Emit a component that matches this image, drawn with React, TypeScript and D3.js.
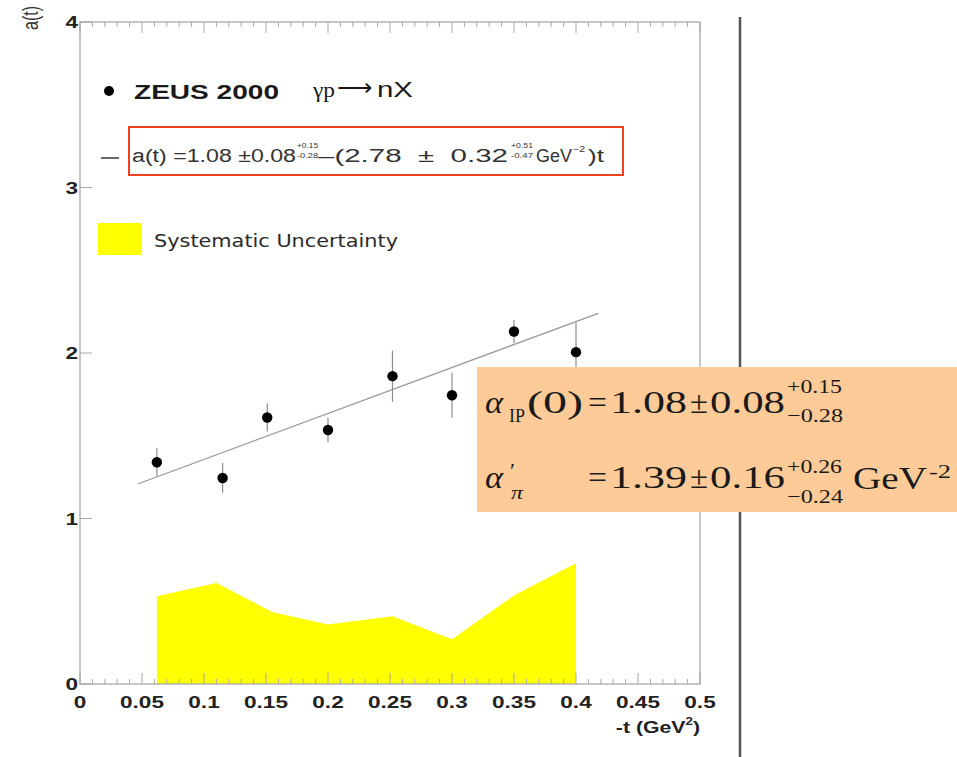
import React from 'react';
import * as d3 from 'd3';

// ZEUS 2000, gamma p -> n X : effective trajectory a(t) vs -t
const tPoints = [0.062, 0.115, 0.151, 0.2, 0.252, 0.3, 0.35, 0.4];
const aValues = [1.34, 1.245, 1.61, 1.535, 1.86, 1.745, 2.13, 2.005];
const aErrors = [0.085, 0.09, 0.085, 0.075, 0.155, 0.135, 0.07, 0.18];

// systematic uncertainty band (drawn from zero)
const sysT = [0.062, 0.11, 0.155, 0.2, 0.252, 0.3, 0.351, 0.4];
const sysHeight = [0.53, 0.61, 0.435, 0.36, 0.41, 0.27, 0.54, 0.73];

// fitted line end points
const fitT = [0.047, 0.418];
const fitA = [1.21, 2.24];

const xTicks = [0, 0.05, 0.1, 0.15, 0.2, 0.25, 0.3, 0.35, 0.4, 0.45, 0.5];
const yTicks = [0, 1, 2, 3, 4];

const W = 957;
const H = 757;
const SX = 1.33; // the original picture is stretched horizontally
const SANS = '"Liberation Sans", Arial, sans-serif';
const SERIF = '"Liberation Serif", "Times New Roman", serif';
const NB = '\u00a0';

function Stretch({ x, y, anchor = 'start', size, weight = 'normal', family = SANS, fill = '#1a1a1a', children }: any) {
  return (
    <text
      transform={`translate(${x},${y}) scale(${SX},1)`}
      textAnchor={anchor}
      fontSize={size}
      fontWeight={weight}
      fontFamily={family}
      fill={fill}
    >
      {children}
    </text>
  );
}

function Fit({ x, y, w, size, weight = 'normal', family = SANS, italic = false, fill = '#1a1a1a', children }: any) {
  return (
    <text
      x={x}
      y={y}
      textLength={w}
      lengthAdjust="spacingAndGlyphs"
      fontSize={size}
      fontWeight={weight}
      fontStyle={italic ? 'italic' : 'normal'}
      fontFamily={family}
      fill={fill}
    >
      {children}
    </text>
  );
}

export default function App() {
  const x = d3.scaleLinear().domain([0, 0.5]).range([80, 700]);
  const y = d3.scaleLinear().domain([0, 4]).range([684, 22]);

  const minorX = d3.range(0, 51).map(i => i / 100);

  const band = d3.area<number>()
    .x((d, i) => x(sysT[i]))
    .y0(y(0))
    .y1(d => y(d));

  const fitLine = d3.line<number>()
    .x((d, i) => x(fitT[i]))
    .y(d => y(d));

  const fmt = d3.format('~g');
  const frame = '#a8a8a8';

  return (
    <svg width={W} height={H} style={{ position: 'absolute', left: 0, top: 0, background: '#fff' }}>
      {/* systematic band */}
      <path d={band(sysHeight) || ''} fill="#ffff00" />

      {/* frame */}
      <rect x={x(0)} y={y(4)} width={x(0.5) - x(0)} height={y(0) - y(4)} fill="none" stroke={frame} strokeWidth={1.3} />

      {/* x ticks bottom and top */}
      {minorX.map((t, i) => {
        const major = i % 5 === 0;
        const len = major ? 11 : 5;
        return (
          <g key={`mx${i}`} stroke={frame} strokeWidth={1}>
            <line x1={x(t)} x2={x(t)} y1={y(0)} y2={y(0) - len} />
            <line x1={x(t)} x2={x(t)} y1={y(4)} y2={y(4) + len} />
          </g>
        );
      })}
      {/* y ticks */}
      {yTicks.map(v => (
        <line key={`yt${v}`} x1={x(0)} x2={x(0) + 12} y1={y(v)} y2={y(v)} stroke={frame} strokeWidth={1} />
      ))}

      {/* tick labels */}
      {xTicks.map(t => (
        <Stretch key={`xl${t}`} x={x(t)} y={708} anchor="middle" size={17} weight="bold" fill="#222">
          {fmt(t)}
        </Stretch>
      ))}
      {yTicks.map(v => (
        <Stretch key={`yl${v}`} x={78} y={y(v) + 6} anchor="end" size={17} weight="bold" fill="#222">
          {v}
        </Stretch>
      ))}

      {/* axis titles */}
      <Stretch x={700} y={733} anchor="end" size={16} weight="bold" fill="#222">
        -t (GeV<tspan dy={-8} fontSize={10}>2</tspan><tspan dy={8}>)</tspan>
      </Stretch>
      <text
        transform={`translate(38,6) rotate(-90) scale(1,${SX})`}
        textAnchor="end"
        fontSize={16}
        fontFamily={SANS}
        fill="#333"
      >
        a(t)
      </text>

      {/* fit line */}
      <path d={fitLine(fitA) || ''} fill="none" stroke="#9a9a9a" strokeWidth={1.3} />

      {/* data points */}
      {tPoints.map((t, i) => (
        <g key={`p${i}`}>
          <line
            x1={x(t)} x2={x(t)}
            y1={y(aValues[i] - aErrors[i])} y2={y(aValues[i] + aErrors[i])}
            stroke="#8c8c8c" strokeWidth={1.2}
          />
          <circle cx={x(t)} cy={y(aValues[i])} r={5.2} fill="#000" />
        </g>
      ))}

      {/* legend */}
      <circle cx={109} cy={91} r={5} fill="#000" />
      <Fit x={134} y={99} w={145} size={21} weight="bold">ZEUS 2000</Fit>
      <Fit x={313} y={97} w={22} size={22} family={SERIF}>γp</Fit>
      <Fit x={337} y={95} w={36} size={22} family={SERIF}>⟶</Fit>
      <Fit x={377} y={97} w={36} size={22}>nX</Fit>

      <line x1={101} x2={119} y1={158} y2={158} stroke="#444" strokeWidth={1.6} />
      <rect x={129} y={127} width={494} height={48} fill="none" stroke="#f0421c" strokeWidth={2} />
      <Fit x={132} y={162} w={164} size={18} fill="#333">a(t) =1.08 ±0.08</Fit>
      <Fit x={297} y={148} w={21} size={8} fill="#333">+0.15</Fit>
      <Fit x={297} y={158} w={21} size={8} fill="#333">-0.28</Fit>
      <Fit x={318} y={162} w={190} size={18} fill="#333">{`–(2.78${NB}${NB}±${NB}${NB}0.32`}</Fit>
      <Fit x={511} y={148} w={22} size={8} fill="#333">+0.51</Fit>
      <Fit x={511} y={158} w={22} size={8} fill="#333">-0.47</Fit>
      <Fit x={536} y={162} w={36} size={18} fill="#333">GeV</Fit>
      <Fit x={573} y={152} w={12} size={9} fill="#333">−2</Fit>
      <Fit x={588} y={162} w={16} size={18} fill="#333">)t</Fit>

      <rect x={98} y={223} width={44} height={32} fill="#ffff00" />
      <Fit x={154} y={247} w={244} size={18} family='"DejaVu Sans", sans-serif' fill="#2a2a2a">Systematic Uncertainty</Fit>

      {/* separator */}
      <line x1={740} x2={740} y1={17} y2={H} stroke="#555" strokeWidth={2.5} />

      {/* result box */}
      <rect x={477} y={367} width={W - 477} height={145} fill="#fccb98" />
      <g fill="#111">
        <Fit x={485} y={413} w={18} size={31} family={SERIF} italic>α</Fit>
        <Fit x={509} y={422} w={16} size={19} family={SERIF}>IP</Fit>
        <Fit x={527} y={413} w={56} size={31} family={SERIF}>(0)</Fit>
        <Fit x={588} y={413} w={19} size={31} family={SERIF}>=</Fit>
        <Fit x={610} y={413} w={77} size={31} family={SERIF}>1.08</Fit>
        <Fit x={690} y={413} w={18} size={31} family={SERIF}>±</Fit>
        <Fit x={710} y={413} w={75} size={31} family={SERIF}>0.08</Fit>
        <Fit x={787} y={393} w={55} size={19} family={SERIF}>+0.15</Fit>
        <Fit x={787} y={422} w={56} size={19} family={SERIF}>−0.28</Fit>

        <Fit x={485} y={488} w={18} size={31} family={SERIF} italic>α</Fit>
        <Fit x={510} y={478} w={5} size={22} family={SERIF}>′</Fit>
        <Fit x={511} y={499} w={12} size={19} family={SERIF} italic>π</Fit>
        <Fit x={588} y={488} w={19} size={31} family={SERIF}>=</Fit>
        <Fit x={610} y={488} w={77} size={31} family={SERIF}>1.39</Fit>
        <Fit x={690} y={488} w={18} size={31} family={SERIF}>±</Fit>
        <Fit x={710} y={488} w={75} size={31} family={SERIF}>0.16</Fit>
        <Fit x={787} y={473} w={55} size={19} family={SERIF}>+0.26</Fit>
        <Fit x={787} y={503} w={56} size={19} family={SERIF}>−0.24</Fit>
        <Fit x={853} y={489} w={74} size={31} family={SERIF}>GeV</Fit>
        <Fit x={929} y={478} w={22} size={19} family={SERIF}>-2</Fit>
      </g>
    </svg>
  );
}
